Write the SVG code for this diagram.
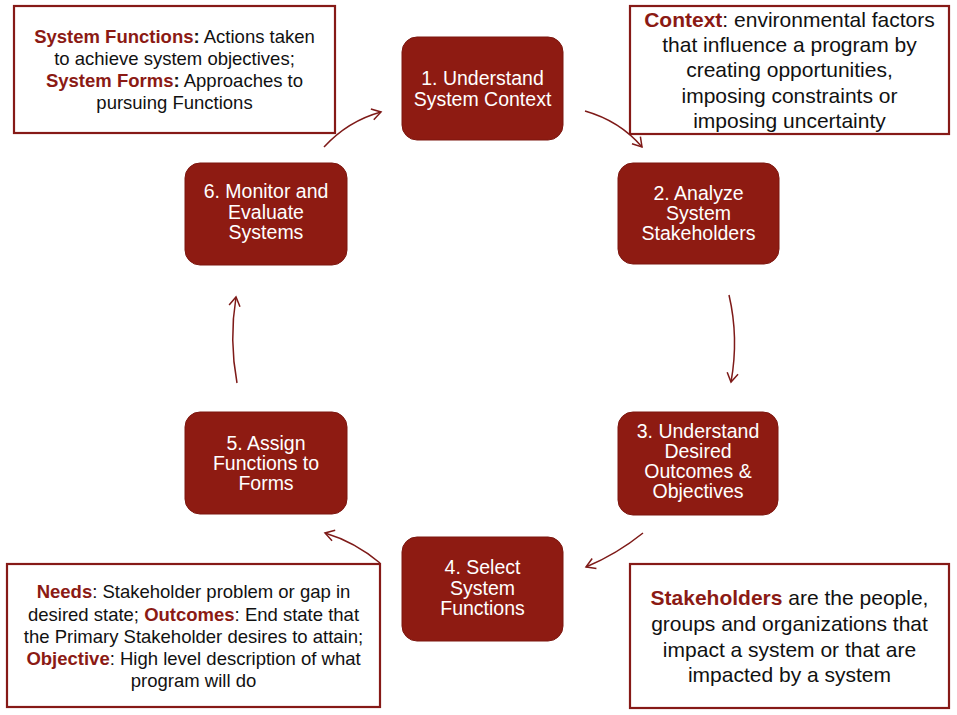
<svg xmlns="http://www.w3.org/2000/svg" width="957" height="715" viewBox="0 0 957 715">
<style>
.node rect{fill:#8E1B12;stroke:#7C160F;stroke-width:1}
.nt{font-family:"Liberation Sans",Arial,sans-serif;font-size:19.5px;fill:#ffffff;text-anchor:middle}
.box rect{fill:#ffffff;stroke:#861A17;stroke-width:2.2}
.bt{font-family:"Liberation Sans",Arial,sans-serif;fill:#111111;text-anchor:middle}
.s{font-size:18.5px}
.l{font-size:21px}
.r{fill:#8B1A14;font-weight:bold}
.b{font-weight:bold}
.conn path{fill:none;stroke:#7E1A18;stroke-width:1.5}
</style>
<defs>
<marker id="ah" markerUnits="userSpaceOnUse" markerWidth="20" markerHeight="20" viewBox="-12 -10 14 20" refX="0" refY="0" orient="auto">
<path d="M-9,-5.5 L0,0 L-9,5.5" fill="none" stroke="#7E1A18" stroke-width="1.5"/>
</marker>
</defs>
<rect width="957" height="715" fill="#ffffff"/>

<g id="box-functions" class="box">
<rect x="14" y="6" width="321" height="127"/>
<text class="bt s" x="174.5" y="43"><tspan class="r">System Functions</tspan><tspan class="b">:</tspan> Actions taken</text>
<text class="bt s" x="174.5" y="65">to achieve system objectives;</text>
<text class="bt s" x="174.5" y="87"><tspan class="r">System Forms</tspan><tspan class="b">:</tspan> Approaches to</text>
<text class="bt s" x="174.5" y="109">pursuing Functions</text>
</g>

<g id="box-context" class="box">
<rect x="630" y="6" width="319" height="128"/>
<text class="bt l" x="789.5" y="27"><tspan class="r">Context</tspan>: environmental factors</text>
<text class="bt l" x="789.5" y="52">that influence a program by</text>
<text class="bt l" x="789.5" y="77">creating opportunities,</text>
<text class="bt l" x="789.5" y="102.5">imposing constraints or</text>
<text class="bt l" x="789.5" y="128">imposing uncertainty</text>
</g>

<g id="box-needs" class="box">
<rect x="7" y="564" width="373" height="143"/>
<text class="bt s" x="193.5" y="598"><tspan class="r">Needs</tspan>: Stakeholder problem or gap in</text>
<text class="bt s" x="193.5" y="620.5">desired state; <tspan class="r">Outcomes</tspan>: End state that</text>
<text class="bt s" x="193.5" y="643">the Primary Stakeholder desires to attain;</text>
<text class="bt s" x="193.5" y="665"><tspan class="r">Objective</tspan>: High level description of what</text>
<text class="bt s" x="193.5" y="687">program will do</text>
</g>

<g id="box-stakeholders" class="box">
<rect x="630" y="564" width="319" height="144"/>
<text class="bt l" x="789.5" y="605"><tspan class="r">Stakeholders</tspan> are the people,</text>
<text class="bt l" x="789.5" y="631">groups and organizations that</text>
<text class="bt l" x="789.5" y="657">impact a system or that are</text>
<text class="bt l" x="789.5" y="682">impacted by a system</text>
</g>

<g id="node1" class="node">
<rect x="402" y="37" width="161" height="103" rx="15"/>
<text class="nt" x="482.5" y="85">1. Understand</text>
<text class="nt" x="482.5" y="106">System Context</text>
</g>
<g id="node2" class="node">
<rect x="618" y="163" width="161" height="101" rx="15"/>
<text class="nt" x="698.5" y="200">2. Analyze</text>
<text class="nt" x="698.5" y="220">System</text>
<text class="nt" x="698.5" y="240">Stakeholders</text>
</g>
<g id="node3" class="node">
<rect x="618" y="412" width="160" height="103" rx="15"/>
<text class="nt" x="698" y="438">3. Understand</text>
<text class="nt" x="698" y="458">Desired</text>
<text class="nt" x="698" y="478">Outcomes &amp;</text>
<text class="nt" x="698" y="498">Objectives</text>
</g>
<g id="node4" class="node">
<rect x="402" y="537" width="161" height="104" rx="15"/>
<text class="nt" x="482.5" y="574">4. Select</text>
<text class="nt" x="482.5" y="595">System</text>
<text class="nt" x="482.5" y="615">Functions</text>
</g>
<g id="node5" class="node">
<rect x="185" y="412" width="162" height="102" rx="15"/>
<text class="nt" x="266" y="450">5. Assign</text>
<text class="nt" x="266" y="470">Functions to</text>
<text class="nt" x="266" y="490">Forms</text>
</g>
<g id="node6" class="node">
<rect x="185" y="163" width="162" height="102" rx="15"/>
<text class="nt" x="266" y="198">6. Monitor and</text>
<text class="nt" x="266" y="219">Evaluate</text>
<text class="nt" x="266" y="239">Systems</text>
</g>

<g id="connectors" class="conn">
<path d="M585,111 Q620,121 642,147" marker-end="url(#ah)"/>
<path d="M729,295 Q739,338 731,382" marker-end="url(#ah)"/>
<path d="M643,533 Q617,554 586,567" marker-end="url(#ah)"/>
<path d="M380,563 Q355,542 325,533" marker-end="url(#ah)"/>
<path d="M237,383 Q229,340 236,297" marker-end="url(#ah)"/>
<path d="M324,147 Q348,121 381,112" marker-end="url(#ah)"/>
</g>
</svg>
